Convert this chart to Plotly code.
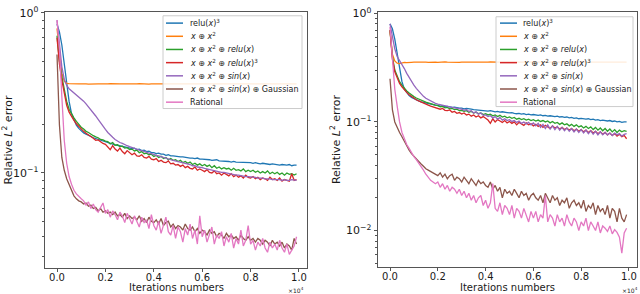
import plotly.graph_objects as go

W, H = 640, 294

iters = [100 * i for i in range(100)]

# ---------------- left panel ----------------
left_relu3 = [0.85, 0.76, 0.63, 0.48, 0.36, 0.28, 0.235, 0.213, 0.199, 0.19,
              0.183, 0.178, 0.175, 0.171, 0.169, 0.166, 0.164, 0.162, 0.160, 0.158,
              0.156, 0.155, 0.153, 0.152, 0.150, 0.149, 0.148, 0.147, 0.146, 0.145,
              0.144, 0.142, 0.143, 0.140, 0.141, 0.138, 0.139, 0.136, 0.137, 0.134,
              0.134, 0.132, 0.133, 0.131, 0.131, 0.129, 0.130, 0.128, 0.128, 0.127,
              0.127, 0.126, 0.126, 0.125, 0.125, 0.124, 0.124, 0.123, 0.124, 0.122,
              0.122, 0.122, 0.121, 0.121, 0.120, 0.120, 0.121, 0.119, 0.119, 0.118,
              0.119, 0.118, 0.117, 0.118, 0.117, 0.117, 0.116, 0.117, 0.116, 0.116,
              0.116, 0.115, 0.116, 0.115, 0.114, 0.115, 0.114, 0.114, 0.113, 0.114,
              0.113, 0.113, 0.112, 0.113, 0.112, 0.112, 0.113, 0.111, 0.112, 0.112]
left_x_x2 = [0.80, 0.55, 0.42, 0.375, 0.363, 0.361, 0.360, 0.360, 0.360, 0.360,
             0.360, 0.361, 0.360, 0.359, 0.360, 0.360, 0.361, 0.360, 0.360, 0.359,
             0.360, 0.360, 0.361, 0.360, 0.360, 0.359, 0.360, 0.360, 0.361, 0.360,
             0.360, 0.360, 0.359, 0.360, 0.361, 0.360, 0.360, 0.360, 0.359, 0.360,
             0.360, 0.361, 0.360, 0.360, 0.360, 0.359, 0.360, 0.361, 0.360, 0.360,
             0.360, 0.360, 0.359, 0.360, 0.361, 0.360, 0.360, 0.360, 0.359, 0.360,
             0.360, 0.361, 0.360, 0.360, 0.360, 0.359, 0.360, 0.361, 0.360, 0.360,
             0.360, 0.360, 0.359, 0.360, 0.361, 0.360, 0.360, 0.360, 0.359, 0.360,
             0.360, 0.361, 0.360, 0.360, 0.360, 0.359, 0.360, 0.361, 0.360, 0.360,
             0.360, 0.360, 0.359, 0.360, 0.361, 0.360, 0.360, 0.360, 0.359, 0.360]
left_relu = [0.72, 0.50, 0.40, 0.33, 0.28, 0.25, 0.234, 0.221, 0.21, 0.20,
             0.193, 0.188, 0.182, 0.179, 0.174, 0.171, 0.168, 0.166, 0.162, 0.161,
             0.158, 0.157, 0.152, 0.155, 0.149, 0.150, 0.146, 0.147, 0.143, 0.144,
             0.140, 0.141, 0.137, 0.139, 0.134, 0.136, 0.132, 0.133, 0.130, 0.131,
             0.127, 0.129, 0.125, 0.127, 0.123, 0.125, 0.121, 0.123, 0.120, 0.121,
             0.118, 0.120, 0.116, 0.118, 0.115, 0.117, 0.113, 0.115, 0.112, 0.114,
             0.111, 0.113, 0.110, 0.112, 0.108, 0.111, 0.107, 0.109, 0.106, 0.108,
             0.106, 0.107, 0.104, 0.107, 0.104, 0.105, 0.103, 0.106, 0.102, 0.104,
             0.102, 0.104, 0.101, 0.103, 0.100, 0.102, 0.100, 0.103, 0.099, 0.101,
             0.099, 0.101, 0.098, 0.100, 0.097, 0.100, 0.098, 0.099, 0.097, 0.099]
left_relu3b = [0.70, 0.48, 0.38, 0.31, 0.265, 0.24, 0.225, 0.213, 0.203, 0.195,
               0.188, 0.182, 0.177, 0.172, 0.169, 0.165, 0.160, 0.161, 0.156, 0.153,
               0.151, 0.146, 0.140, 0.148, 0.141, 0.137, 0.143, 0.136, 0.132, 0.138,
               0.134, 0.130, 0.133, 0.128, 0.127, 0.130, 0.125, 0.124, 0.127, 0.122,
               0.121, 0.123, 0.118, 0.120, 0.117, 0.116, 0.119, 0.114, 0.115, 0.112,
               0.113, 0.110, 0.112, 0.108, 0.110, 0.107, 0.106, 0.109, 0.104, 0.106,
               0.104, 0.102, 0.105, 0.101, 0.100, 0.103, 0.099, 0.100, 0.097, 0.100,
               0.098, 0.096, 0.099, 0.095, 0.097, 0.094, 0.096, 0.093, 0.097, 0.094,
               0.093, 0.095, 0.092, 0.094, 0.091, 0.093, 0.092, 0.090, 0.094, 0.091,
               0.092, 0.090, 0.093, 0.089, 0.091, 0.090, 0.089, 0.099, 0.090, 0.091]
left_sin = [0.90, 0.65, 0.46, 0.385, 0.352, 0.336, 0.326, 0.318, 0.31, 0.301,
            0.291, 0.281, 0.270, 0.259, 0.249, 0.238, 0.227, 0.216, 0.205, 0.196,
            0.187, 0.179, 0.172, 0.167, 0.162, 0.158, 0.155, 0.153, 0.150, 0.148,
            0.146, 0.144, 0.142, 0.141, 0.139, 0.138, 0.136, 0.135, 0.133, 0.132,
            0.130, 0.129, 0.128, 0.126, 0.125, 0.124, 0.122, 0.121, 0.120, 0.119,
            0.118, 0.117, 0.116, 0.115, 0.113, 0.113, 0.111, 0.111, 0.109, 0.109,
            0.108, 0.107, 0.106, 0.105, 0.104, 0.104, 0.103, 0.102, 0.101, 0.101,
            0.100, 0.099, 0.099, 0.098, 0.097, 0.097, 0.096, 0.096, 0.095, 0.095,
            0.095, 0.094, 0.094, 0.093, 0.093, 0.093, 0.092, 0.092, 0.092, 0.091,
            0.091, 0.091, 0.091, 0.090, 0.091, 0.090, 0.090, 0.091, 0.090, 0.090]
left_gauss = [0.55, 0.20, 0.125, 0.104, 0.092, 0.084, 0.077, 0.072, 0.069, 0.067,
              0.066, 0.064, 0.065, 0.062, 0.063, 0.060, 0.061, 0.058, 0.060, 0.057,
              0.058, 0.056, 0.057, 0.055, 0.057, 0.054, 0.055, 0.053, 0.056, 0.052,
              0.054, 0.052, 0.053, 0.051, 0.054, 0.050, 0.052, 0.049, 0.053, 0.050,
              0.049, 0.051, 0.048, 0.052, 0.047, 0.049, 0.050, 0.046, 0.048, 0.045,
              0.047, 0.046, 0.044, 0.048, 0.045, 0.044, 0.046, 0.043, 0.045, 0.042,
              0.044, 0.043, 0.041, 0.044, 0.042, 0.043, 0.040, 0.042, 0.041, 0.039,
              0.042, 0.040, 0.041, 0.039, 0.040, 0.038, 0.041, 0.039, 0.038, 0.040,
              0.038, 0.039, 0.037, 0.039, 0.038, 0.036, 0.038, 0.037, 0.035, 0.038,
              0.036, 0.037, 0.035, 0.037, 0.034, 0.036, 0.035, 0.033, 0.039, 0.036]
left_rational = [0.90, 0.60, 0.30, 0.16, 0.115, 0.095, 0.085, 0.078, 0.074, 0.071,
                 0.069, 0.067, 0.063, 0.066, 0.060, 0.064, 0.059, 0.057, 0.061, 0.065,
                 0.056, 0.059, 0.053, 0.058, 0.055, 0.051, 0.057, 0.054, 0.049, 0.056,
                 0.052, 0.048, 0.054, 0.050, 0.046, 0.053, 0.049, 0.051, 0.045, 0.055,
                 0.047, 0.044, 0.050, 0.042, 0.048, 0.053, 0.043, 0.041, 0.047, 0.039,
                 0.046, 0.043, 0.037, 0.045, 0.041, 0.048, 0.039, 0.044, 0.036, 0.054,
                 0.040, 0.044, 0.037, 0.042, 0.046, 0.036, 0.041, 0.039, 0.043, 0.035,
                 0.040, 0.037, 0.042, 0.034, 0.039, 0.036, 0.044, 0.035, 0.038, 0.047,
                 0.036, 0.038, 0.033, 0.037, 0.035, 0.039, 0.034, 0.032, 0.037, 0.034,
                 0.036, 0.033, 0.038, 0.034, 0.032, 0.036, 0.031, 0.033, 0.035, 0.040]

# ---------------- right panel ----------------
right_relu3 = [0.80, 0.72, 0.58, 0.42, 0.30, 0.235, 0.20, 0.185, 0.175, 0.168,
               0.163, 0.159, 0.156, 0.153, 0.151, 0.149, 0.147, 0.146, 0.144, 0.143,
               0.142, 0.140, 0.141, 0.138, 0.139, 0.137, 0.136, 0.137, 0.135, 0.134,
               0.134, 0.132, 0.133, 0.131, 0.131, 0.130, 0.129, 0.130, 0.128, 0.128,
               0.127, 0.126, 0.127, 0.125, 0.124, 0.125, 0.123, 0.124, 0.122, 0.122,
               0.121, 0.122, 0.120, 0.119, 0.120, 0.118, 0.119, 0.117, 0.118, 0.116,
               0.117, 0.116, 0.115, 0.116, 0.114, 0.115, 0.113, 0.114, 0.113, 0.112,
               0.113, 0.111, 0.112, 0.110, 0.111, 0.109, 0.110, 0.108, 0.109, 0.107,
               0.108, 0.107, 0.106, 0.107, 0.105, 0.106, 0.104, 0.105, 0.103, 0.104,
               0.103, 0.102, 0.103, 0.101, 0.102, 0.100, 0.101, 0.099, 0.100, 0.100]
right_x_x2 = [0.70, 0.42, 0.365, 0.348, 0.345, 0.350, 0.353, 0.352, 0.355, 0.354,
              0.355, 0.356, 0.354, 0.355, 0.357, 0.355, 0.354, 0.356, 0.355, 0.355,
              0.354, 0.356, 0.355, 0.357, 0.355, 0.354, 0.355, 0.356, 0.355, 0.354,
              0.356, 0.355, 0.355, 0.357, 0.354, 0.355, 0.356, 0.355, 0.354, 0.356,
              0.355, 0.355, 0.357, 0.355, 0.354, 0.356, 0.355, 0.355, 0.354, 0.356,
              0.355, 0.357, 0.355, 0.354, 0.355, 0.356, 0.355, 0.354, 0.356, 0.355,
              0.355, 0.357, 0.354, 0.355, 0.356, 0.355, 0.354, 0.356, 0.355, 0.355,
              0.354, 0.356, 0.355, 0.357, 0.355, 0.354, 0.355, 0.356, 0.355, 0.354,
              0.356, 0.355, 0.355, 0.357, 0.354, 0.355, 0.356, 0.355, 0.354, 0.356,
              0.355, 0.355, 0.357, 0.355, 0.354, 0.356, 0.355, 0.355, 0.354, 0.356]
right_relu = [0.70, 0.40, 0.30, 0.26, 0.235, 0.218, 0.204, 0.193, 0.185, 0.177,
              0.171, 0.166, 0.162, 0.159, 0.155, 0.152, 0.150, 0.147, 0.145, 0.143,
              0.141, 0.138, 0.139, 0.135, 0.136, 0.132, 0.133, 0.130, 0.131, 0.127,
              0.128, 0.125, 0.127, 0.123, 0.125, 0.121, 0.123, 0.119, 0.121, 0.117,
              0.119, 0.116, 0.118, 0.114, 0.116, 0.112, 0.115, 0.111, 0.113, 0.109,
              0.111, 0.108, 0.110, 0.106, 0.108, 0.105, 0.107, 0.104, 0.106, 0.103,
              0.105, 0.102, 0.104, 0.101, 0.103, 0.100, 0.102, 0.098, 0.101, 0.097,
              0.099, 0.095, 0.098, 0.094, 0.096, 0.092, 0.095, 0.091, 0.094, 0.090,
              0.092, 0.088, 0.091, 0.087, 0.090, 0.085, 0.089, 0.084, 0.088, 0.083,
              0.087, 0.082, 0.086, 0.081, 0.085, 0.080, 0.084, 0.081, 0.083, 0.082]
right_relu3b = [0.70, 0.38, 0.29, 0.25, 0.226, 0.21, 0.197, 0.187, 0.178, 0.171,
                0.165, 0.160, 0.156, 0.152, 0.149, 0.146, 0.143, 0.140, 0.138, 0.136,
                0.134, 0.131, 0.133, 0.128, 0.127, 0.129, 0.123, 0.125, 0.120, 0.122,
                0.118, 0.121, 0.116, 0.118, 0.113, 0.116, 0.111, 0.114, 0.109, 0.112,
                0.108, 0.104, 0.097, 0.107, 0.100, 0.105, 0.102, 0.099, 0.103, 0.098,
                0.101, 0.097, 0.100, 0.094, 0.099, 0.096, 0.093, 0.098, 0.094, 0.096,
                0.092, 0.095, 0.091, 0.094, 0.089, 0.093, 0.090, 0.087, 0.092, 0.088,
                0.090, 0.086, 0.089, 0.085, 0.088, 0.084, 0.087, 0.083, 0.086, 0.082,
                0.085, 0.081, 0.084, 0.080, 0.083, 0.079, 0.082, 0.078, 0.081, 0.077,
                0.080, 0.076, 0.079, 0.075, 0.078, 0.074, 0.077, 0.073, 0.075, 0.070]
right_sin = [0.80, 0.60, 0.47, 0.40, 0.37, 0.34, 0.31, 0.28, 0.255, 0.235,
             0.218, 0.204, 0.192, 0.181, 0.172, 0.165, 0.160, 0.155, 0.151, 0.148,
             0.146, 0.144, 0.142, 0.141, 0.139, 0.138, 0.136, 0.135, 0.134, 0.132,
             0.131, 0.128, 0.130, 0.125, 0.127, 0.121, 0.124, 0.118, 0.121, 0.115,
             0.116, 0.112, 0.114, 0.109, 0.112, 0.106, 0.110, 0.104, 0.107, 0.103,
             0.105, 0.101, 0.103, 0.099, 0.102, 0.097, 0.100, 0.096, 0.099, 0.094,
             0.098, 0.092, 0.097, 0.089, 0.095, 0.087, 0.094, 0.086, 0.092, 0.085,
             0.091, 0.084, 0.089, 0.083, 0.088, 0.082, 0.087, 0.081, 0.086, 0.080,
             0.085, 0.079, 0.084, 0.078, 0.083, 0.077, 0.082, 0.076, 0.081, 0.076,
             0.080, 0.076, 0.079, 0.075, 0.079, 0.076, 0.078, 0.074, 0.077, 0.078]
right_gauss = [0.25, 0.13, 0.10, 0.088, 0.080, 0.073, 0.066, 0.060, 0.055, 0.051,
               0.048, 0.046, 0.043, 0.041, 0.039, 0.037, 0.036, 0.035, 0.034, 0.033,
               0.032, 0.034, 0.031, 0.033, 0.030, 0.032, 0.033, 0.029, 0.031, 0.030,
               0.028, 0.031, 0.029, 0.027, 0.030, 0.028, 0.026, 0.029, 0.027, 0.028,
               0.026, 0.025, 0.028, 0.024, 0.026, 0.023, 0.025, 0.020, 0.024, 0.022,
               0.023, 0.021, 0.024, 0.022, 0.020, 0.023, 0.021, 0.022, 0.019, 0.021,
               0.022, 0.020, 0.019, 0.021, 0.018, 0.022, 0.020, 0.018, 0.021, 0.019,
               0.020, 0.017, 0.019, 0.018, 0.020, 0.016, 0.018, 0.019, 0.017, 0.018,
               0.016, 0.019, 0.015, 0.017, 0.016, 0.018, 0.014, 0.017, 0.015, 0.016,
               0.014, 0.017, 0.013, 0.016, 0.015, 0.012, 0.016, 0.013, 0.012, 0.014]
right_rational = [0.75, 0.40, 0.20, 0.14, 0.10, 0.080, 0.070, 0.062, 0.057, 0.052,
                  0.048, 0.045, 0.042, 0.039, 0.036, 0.033, 0.031, 0.029, 0.028, 0.027,
                  0.028, 0.025, 0.027, 0.024, 0.026, 0.023, 0.025, 0.024, 0.022, 0.024,
                  0.021, 0.023, 0.020, 0.022, 0.019, 0.021, 0.018, 0.020, 0.021, 0.017,
                  0.019, 0.016, 0.018, 0.027, 0.016, 0.015, 0.018, 0.014, 0.017, 0.016,
                  0.014, 0.017, 0.013, 0.016, 0.015, 0.013, 0.016, 0.014, 0.012, 0.015,
                  0.013, 0.015, 0.012, 0.014, 0.013, 0.021, 0.012, 0.014, 0.013, 0.011,
                  0.014, 0.012, 0.013, 0.011, 0.014, 0.012, 0.011, 0.013, 0.012, 0.010,
                  0.012, 0.011, 0.013, 0.010, 0.012, 0.011, 0.010, 0.012, 0.0095, 0.011,
                  0.0105, 0.0098, 0.011, 0.0093, 0.0102, 0.0096, 0.0087, 0.0062, 0.0095, 0.0105]

names = ["relu(<i>x</i>)<sup>3</sup>",
         "<i>x</i> ⊕ <i>x</i><sup>2</sup>",
         "<i>x</i> ⊕ <i>x</i><sup>2</sup> ⊕ <i>relu</i>(<i>x</i>)",
         "<i>x</i> ⊕ <i>x</i><sup>2</sup> ⊕ <i>relu</i>(<i>x</i>)<sup>3</sup>",
         "<i>x</i> ⊕ <i>x</i><sup>2</sup> ⊕ <i>sin</i>(<i>x</i>)",
         "<i>x</i> ⊕ <i>x</i><sup>2</sup> ⊕ <i>sin</i>(<i>x</i>) ⊕ Gaussian",
         "Rational"]
colors = ["#1f77b4", "#ff7f0e", "#2ca02c", "#d62728", "#9467bd", "#8c564b", "#e377c2"]

left_series = [left_relu3, left_x_x2, left_relu, left_relu3b, left_sin, left_gauss, left_rational]
right_series = [right_relu3, right_x_x2, right_relu, right_relu3b, right_sin, right_gauss, right_rational]

xtick_vals = [0, 2000, 4000, 6000, 8000, 10000]
xtick_text = ["0.0", "0.2", "0.4", "0.6", "0.8", "1.0"]
x_title = "Iterations numbers"
y_title = "Relative <i>L</i><sup>2</sup> error"

fig = go.Figure()
for s, n, c in zip(left_series, names, colors):
    fig.add_trace(go.Scatter(x=iters, y=s, mode="lines", name=n,
                             line=dict(color=c, width=1.3), xaxis="x", yaxis="y",
                             showlegend=False))
for s, n, c in zip(right_series, names, colors):
    fig.add_trace(go.Scatter(x=iters, y=s, mode="lines", name=n,
                             line=dict(color=c, width=1.3), xaxis="x2", yaxis="y2",
                             showlegend=False))

FONT = "DejaVu Sans"
AX = "#555"
TXT = "#1a1a1a"

def px_x(p):
    return p / W

def px_y(p):
    return 1 - p / H

def xaxis(dom, rng, anchor):
    return dict(domain=dom, range=rng, anchor=anchor,
                tickvals=xtick_vals, ticktext=xtick_text,
                ticks="outside", ticklen=3, tickcolor=AX, tickwidth=1,
                ticklabelstandoff=-3, ticklabeloverflow="allow",
                showline=True, linecolor=AX, linewidth=1, mirror=True,
                showgrid=False, zeroline=False,
                tickfont=dict(family=FONT, size=10, color=TXT))

def yaxis(dom, rng, major, major_txt, minor, anchor):
    return dict(domain=dom, type="log", range=rng, anchor=anchor,
                tickvals=major, ticktext=major_txt,
                ticks="outside", ticklen=3.5, tickcolor=AX, tickwidth=1,
                ticklabeloverflow="allow",
                minor=dict(tickvals=minor, ticks="outside", ticklen=2,
                           tickcolor=AX, tickwidth=0.8, showgrid=False),
                showline=True, linecolor=AX, linewidth=1, mirror=True,
                showgrid=False, zeroline=False,
                tickfont=dict(family=FONT, size=11, color=TXT),
                title=dict(text=y_title, standoff=3,
                           font=dict(family=FONT, size=11, color=TXT)))

minor_left = [0.03, 0.04, 0.05, 0.06, 0.07, 0.08, 0.09,
              0.2, 0.3, 0.4, 0.5, 0.6, 0.7, 0.8, 0.9]
minor_right = [0.005, 0.006, 0.007, 0.008, 0.009,
               0.02, 0.03, 0.04, 0.05, 0.06, 0.07, 0.08, 0.09,
               0.2, 0.3, 0.4, 0.5, 0.6, 0.7, 0.8, 0.9]

fig.update_layout(
    width=W, height=H,
    margin=dict(l=0, r=0, t=0, b=0),
    paper_bgcolor="white", plot_bgcolor="white",
    showlegend=False,
    xaxis=xaxis([45 / W, 307 / W], [-496, 10331], "y"),
    yaxis=yaxis([1 - 267 / H, 1 - 5.5 / H], [-1.591, 0.003], [0.1, 1],
                ["10<sup>−1</sup>", "10<sup>0</sup>"], minor_left, "x"),
    xaxis2=xaxis([378 / W, 637 / W], [-502, 10335], "y2"),
    yaxis2=yaxis([1 - 266 / H, 1 - 5.5 / H], [-2.333, 0.009], [0.01, 0.1, 1],
                 ["10<sup>−2</sup>", "10<sup>−1</sup>", "10<sup>0</sup>"], minor_right, "x2"),
)

shapes = []
annotations = []

def add_legend(box, line_x0, line_x1, text_x, y0):
    bx0, by0, bx1, by1 = box
    shapes.append(dict(type="rect", xref="paper", yref="paper", layer="above",
                       x0=px_x(bx0), x1=px_x(bx1), y0=px_y(by1), y1=px_y(by0),
                       fillcolor="rgba(255,255,255,0.85)",
                       line=dict(color="#cccccc", width=1)))
    for k, (n, c) in enumerate(zip(names, colors)):
        yy = y0 + 13.5 * k
        shapes.append(dict(type="line", xref="paper", yref="paper", layer="above",
                           x0=px_x(line_x0), x1=px_x(line_x1), y0=px_y(yy), y1=px_y(yy),
                           line=dict(color=c, width=1.5)))
        annotations.append(dict(xref="paper", yref="paper", x=px_x(text_x), y=px_y(yy),
                                text=n, showarrow=False, xanchor="left", yanchor="middle",
                                font=dict(family=FONT, size=8, color=TXT)))

add_legend((163, 9, 302, 104), 166, 183, 188, 16.5)
add_legend((496, 10, 633, 102), 500, 517, 521, 16.5)

# x-axis titles, centred under each panel, sitting on the bottom edge
for xref in ["x domain", "x2 domain"]:
    annotations.append(dict(xref=xref, yref="paper", x=0.5, y=0,
                            text=x_title, showarrow=False, borderpad=0,
                            xanchor="center", yanchor="bottom",
                            font=dict(family=FONT, size=10, color=TXT)))

for xp, yp in [(306, 289.5), (640, 289.5)]:
    annotations.append(dict(xref="paper", yref="paper", x=px_x(xp), y=px_y(yp),
                            text="×10<sup>4</sup>", showarrow=False,
                            xanchor="right", yanchor="middle",
                            font=dict(family=FONT, size=6, color=TXT)))

fig.update_layout(shapes=shapes, annotations=annotations)

fig.write_html("out.html",
               config={"displayModeBar": False},
               post_script="document.body.style.margin='0px';"
                           "document.body.style.overflow='hidden';")
